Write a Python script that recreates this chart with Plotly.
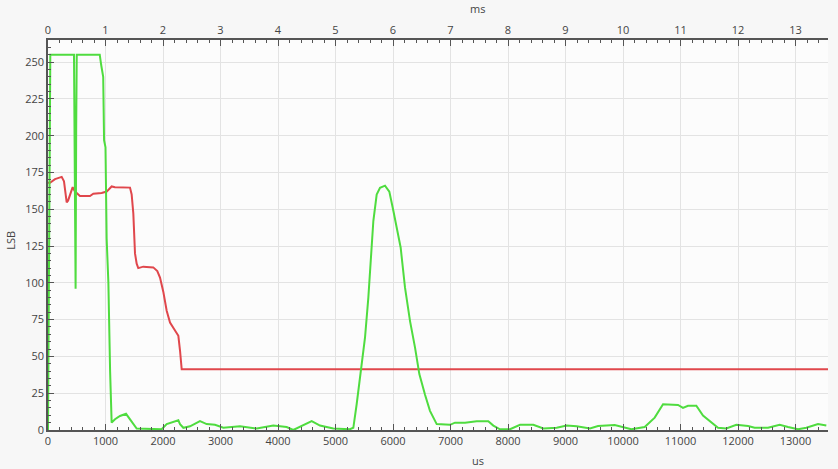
import plotly.graph_objects as go

# Green series (time in us, value in LSB)
green_t = [0, 40, 452, 460, 470, 480, 490, 500, 545, 900, 925, 960, 975, 1000, 1020, 1050, 1080, 1100,
           1107, 1165, 1252, 1357, 1426, 1542, 1977, 2064, 2267, 2296, 2354, 2470, 2643, 2760, 2904, 3049,
           3339, 3630, 3918, 4150, 4266, 4440, 4586, 4730, 4962, 5250, 5310, 5368, 5455, 5513, 5571, 5612,
           5658, 5716, 5774, 5861, 5936, 6006, 6092, 6133, 6209, 6296, 6383, 6458, 6557, 6643, 6760, 6991,
           7078, 7252, 7456, 7657, 7745, 7861, 8035, 8209, 8440, 8614, 8847, 9020, 9194, 9426, 9565, 9855,
           10145, 10377, 10551, 10696, 10957, 11043, 11130, 11275, 11391, 11536, 11652, 11797, 11971, 12174,
           12290, 12522, 12725, 12870, 13043, 13188, 13391, 13536]
green_v = [0, 255, 255, 204, 204, 96, 204, 255, 255, 255, 248, 240, 197, 192, 130, 100, 40, 5,
           5, 7.3, 9.5, 11, 7, 1, 0.5, 4, 6.6, 4, 1.5, 2.5, 6, 4, 3.5, 1.5,
           2.5, 1, 3, 2, 0, 3.5, 6, 3, 1, 0.5, 1.5, 17.5, 44.6, 62.7, 90, 117,
           142, 160, 164.6, 166, 162, 149, 130.6, 124, 96.7, 74, 56, 38, 24, 13, 4, 3.5,
           5, 5, 6, 6, 3, 0.5, 0.5, 3.5, 3.5, 1, 1.5, 3, 2.5, 1, 2.7, 3.4,
           0.5, 2, 8.4, 17.5, 17, 15, 16.5, 16.5, 9.8, 5, 1.5, 1, 3.5, 2.7,
           1.5, 1.5, 3.5, 2, 0.5, 1.5, 4, 3]

# Red series
red_t = [0, 35, 122, 238, 278, 325, 350, 412, 429, 470, 556, 730, 788, 933, 1020, 1107, 1165, 1426,
         1455, 1484, 1513, 1542, 1570, 1657, 1831, 1901, 1948, 2005, 2064, 2122, 2209, 2267, 2296, 2325,
         13565]
red_v = [168, 168, 170.5, 172, 169, 154.6, 156, 163.7, 165, 162, 159, 159, 160.5, 161, 162, 165.5, 165, 164.7,
         160, 147, 120, 113, 110, 111, 110.5, 108, 103.6, 94, 81, 73, 67, 64, 54, 41.3,
         41.3]

x_us_ticks = list(range(0, 14000, 1000))
x_ms_ticks = list(range(0, 14))
y_ticks = list(range(0, 275, 25))
x_max_us = 13565
y_max = 265

FONT = "Open Sans"
AXC = "#555555"
GRID = "#e3e3e3"

fig = go.Figure()
fig.add_trace(go.Scatter(x=red_t, y=red_v, mode="lines",
                         line=dict(color="#e0474c", width=2), showlegend=False))
fig.add_trace(go.Scatter(x=green_t, y=green_v, mode="lines",
                         line=dict(color="#4fdc3f", width=2), showlegend=False))
# invisible trace to bind the top (ms) axis
fig.add_trace(go.Scatter(x=[0, x_max_us / 1000], y=[None, None], xaxis="x2", mode="lines",
                         showlegend=False, hoverinfo="skip"))

common = dict(showline=True, linecolor=AXC, linewidth=1.5, ticks="inside", ticklen=6,
              tickcolor=AXC, tickfont=dict(family=FONT, size=11, color="#444444"),
              gridcolor=GRID, zeroline=False, automargin=False)

fig.update_layout(
    width=838, height=469,
    margin=dict(l=48, r=10, t=40, b=39),
    paper_bgcolor="#f7f7f7", plot_bgcolor="#fcfcfc",
    xaxis=dict(range=[0, x_max_us], tickvals=x_us_ticks, ticktext=[str(v) for v in x_us_ticks],
               minor=dict(ticks="inside", ticklen=3, dtick=200, tick0=0, tickcolor=AXC, showgrid=False),
               **common),
    xaxis2=dict(range=[0, x_max_us / 1000], overlaying="x", side="top", anchor="y",
                tickvals=x_ms_ticks, ticktext=[str(v) for v in x_ms_ticks], showgrid=False,
                minor=dict(ticks="inside", ticklen=3, dtick=0.2, tick0=0, tickcolor=AXC),
                **{k: v for k, v in common.items() if k != "gridcolor"}),
    yaxis=dict(range=[0, y_max], tickvals=y_ticks, ticktext=[str(v) for v in y_ticks],
               minor=dict(ticks="inside", ticklen=3, dtick=5, tick0=0, tickcolor=AXC, showgrid=False),
               **common),
    annotations=[
        dict(text="ms", xref="paper", yref="paper", x=0.551, y=1.0795, showarrow=False,
             xanchor="center", yanchor="middle",
             font=dict(family=FONT, size=11, color="#444444")),
        dict(text="us", xref="paper", yref="paper", x=0.551, y=-0.079, showarrow=False,
             xanchor="center", yanchor="middle",
             font=dict(family=FONT, size=11, color="#444444")),
        dict(text="LSB", xref="paper", yref="paper", x=-0.049, y=0.487, showarrow=False,
             xanchor="center", yanchor="middle",
             textangle=-90, font=dict(family=FONT, size=11, color="#444444")),
    ],
)

fig.write_html("out.html", config={"displayModeBar": False},
               post_script="document.body.style.margin='0';document.body.style.background='#f7f7f7';")
